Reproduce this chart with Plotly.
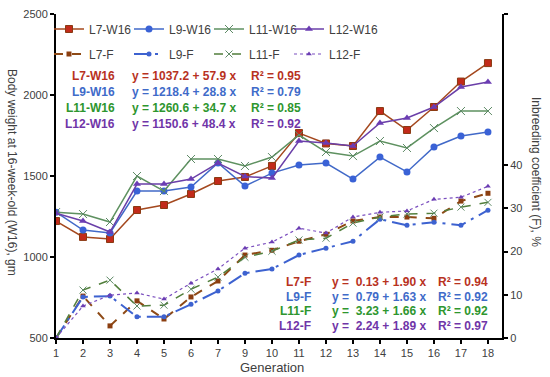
import plotly.graph_objects as go

# ---------------- data ----------------
generations = ["1", "2", "3", "4", "5", "6", "7", "9", "10", "11", "12", "13", "14", "15", "16", "17", "18"]
idx = list(range(len(generations)))

L7_W16 = [1222, 1124, 1111, 1290, 1321, 1389, 1469, 1494, 1562, 1765, 1701, 1685, 1901, 1784, 1926, 2083, 2197]
L9_W16 = [1277, 1166, 1148, 1407, 1407, 1432, 1580, 1438, 1518, 1568, 1580, 1481, 1617, 1525, 1679, 1747, 1771]
L11_W16 = [1277, 1265, 1216, 1500, 1407, 1605, 1605, 1562, 1617, 1753, 1648, 1623, 1716, 1673, 1796, 1901, 1901]
L12_W16 = [1271, 1222, 1154, 1450, 1450, 1481, 1580, 1497, 1487, 1716, 1704, 1685, 1827, 1858, 1926, 2049, 2080]

L7_F = [0, 9.7, 2.8, 8.6, 4.4, 9.5, 13.2, 19.2, 20.3, 22.4, 24.0, 27.1, 28.0, 28.0, 27.7, 31.7, 33.5]
L9_F = [0, 9.5, 9.7, 4.9, 4.9, 7.8, 10.9, 15.0, 16.0, 19.2, 20.8, 22.4, 27.5, 26.1, 26.8, 26.1, 29.6]
L11_F = [0, 11.1, 13.4, 7.4, 7.6, 11.3, 14.1, 18.7, 20.1, 22.7, 23.1, 26.6, 28.0, 28.7, 28.9, 30.3, 31.4]
L12_F = [0, 7.4, 9.9, 10.4, 9.0, 12.7, 16.0, 20.8, 22.2, 25.4, 24.3, 28.0, 29.1, 29.4, 32.1, 32.6, 35.1]

w16_eq_names = ["L7-W16", "L9-W16", "L11-W16", "L12-W16"]
w16_eqs = ["y = 1037.2 + 57.9 x", "y = 1218.4 + 28.8 x", "y = 1260.6 + 34.7 x", "y = 1150.6 + 48.4 x"]
w16_r2 = ["R² = 0.95", "R² = 0.79", "R² = 0.85", "R² = 0.92"]
f_eq_names = ["L7-F", "L9-F", "L11-F", "L12-F"]
f_eqs = ["y =\u00a0 0.13 + 1.90 x", "y =\u00a0 0.79 + 1.63 x", "y =\u00a0 3.23 + 1.66 x", "y =\u00a0 2.24 + 1.89 x"]
f_r2 = ["R² = 0.94", "R² = 0.92", "R² = 0.92", "R² = 0.97"]

# ---------------- styling ----------------
W, H = 550, 377
L, R, T, B = 56, 48, 14, 39
PW, PH = W - L - R, H - T - B

def px(X):
    return (X - L) / PW

def py(Y):
    return (H - B - Y) / PH

txt_col = ["#B8321E", "#3F6BC9", "#2E962E", "#7035A8"]
FONT = "Arial, Liberation Sans, sans-serif"

fig = go.Figure()

w16_specs = [
    ("L7-W16", L7_W16, "#A4481E", dict(symbol="square", size=7, color="#C22A1A", line=dict(width=1, color="#8A3A12"))),
    ("L9-W16", L9_W16, "#4169C8", dict(symbol="circle", size=7, color="#3A62D6")),
    ("L11-W16", L11_W16, "#5E9160", dict(symbol="x-thin", size=8, line=dict(width=1, color="#5E8A66"))),
    ("L12-W16", L12_W16, "#6A3FA8", dict(symbol="triangle-up", size=7, color="#6B3DB3")),
]
for name, ys, col, mk in w16_specs:
    fig.add_trace(go.Scatter(x=idx, y=ys, name=name, mode="lines+markers",
                             line=dict(color=col, width=1.5), marker=mk, legend="legend"))
# invisible spacer so that the last legend label is not clipped
fig.add_trace(go.Scatter(x=[None], y=[None], name="\u00a0", mode="lines",
                         line=dict(color="rgba(0,0,0,0)", width=0), legend="legend", hoverinfo="skip"))

f_specs = [
    ("L7-F", L7_F, "#8E4A16", "dash", 2, dict(symbol="square", size=5, color="#8B3E10")),
    ("L9-F", L9_F, "#3D62D0", "longdashdot", 2, dict(symbol="circle", size=5, color="#3D62D0")),
    ("L11-F", L11_F, "#527F3C", "dash", 1.5, dict(symbol="x-thin", size=7, line=dict(width=1, color="#5E8A66"))),
    ("L12-F", L12_F, "#7B4FBF", "dot", 1.2, dict(symbol="triangle-up", size=5, color="#6B3DB3")),
]
for name, ys, col, dash, wd, mk in f_specs:
    fig.add_trace(go.Scatter(x=idx, y=ys, name=name, mode="lines+markers", yaxis="y2",
                             line=dict(color=col, width=wd, dash=dash), marker=mk, legend="legend2"))
fig.add_trace(go.Scatter(x=[None], y=[None], name="\u00a0", mode="lines", yaxis="y2",
                         line=dict(color="rgba(0,0,0,0)", width=0), legend="legend2", hoverinfo="skip"))

ann = []
w16_rows = [76, 92, 108, 124]
for i in range(4):
    y = py(w16_rows[i])
    ann.append(dict(x=px(117), y=y, xref="paper", yref="paper", text="<b>%s</b>" % w16_eq_names[i],
                    xanchor="right", yanchor="middle", showarrow=False, font=dict(size=12, color=txt_col[i], family=FONT)))
    ann.append(dict(x=px(130), y=y, xref="paper", yref="paper", text="<b>%s</b>" % w16_eqs[i],
                    xanchor="left", yanchor="middle", showarrow=False, font=dict(size=12, color=txt_col[i], family=FONT)))
    ann.append(dict(x=px(249), y=y, xref="paper", yref="paper", text="<b>%s</b>" % w16_r2[i],
                    xanchor="left", yanchor="middle", showarrow=False, font=dict(size=12, color=txt_col[i], family=FONT)))
f_rows = [282, 297, 311, 326]
for i in range(4):
    y = py(f_rows[i])
    ann.append(dict(x=px(313), y=y, xref="paper", yref="paper", text="<b>%s</b>" % f_eq_names[i],
                    xanchor="right", yanchor="middle", showarrow=False, font=dict(size=12, color=txt_col[i], family=FONT)))
    ann.append(dict(x=px(330), y=y, xref="paper", yref="paper", text="<b>%s</b>" % f_eqs[i],
                    xanchor="left", yanchor="middle", showarrow=False, font=dict(size=12, color=txt_col[i], family=FONT)))
    ann.append(dict(x=px(436), y=y, xref="paper", yref="paper", text="<b>%s</b>" % f_r2[i],
                    xanchor="left", yanchor="middle", showarrow=False, font=dict(size=12, color=txt_col[i], family=FONT)))

# axis titles
ann.append(dict(x=px(12), y=py(172), xref="paper", yref="paper", text="Body weight at 16-week-old (W16), gm",
                textangle=90, showarrow=False, xanchor="center", yanchor="middle",
                font=dict(size=12, color="#404040", family=FONT)))
ann.append(dict(x=px(536), y=py(172), xref="paper", yref="paper", text="Inbreeding coefficient (F), %",
                textangle=90, showarrow=False, xanchor="center", yanchor="middle",
                font=dict(size=12, color="#404040", family=FONT)))
ann.append(dict(x=px(272), y=py(367), xref="paper", yref="paper", text="Generation",
                showarrow=False, xanchor="center", yanchor="middle",
                font=dict(size=13, color="#404040", family=FONT)))

fig.update_layout(
    width=W, height=H,
    margin=dict(l=L, r=R, t=T, b=B, pad=0, autoexpand=False),
    paper_bgcolor="white", plot_bgcolor="white",
    font=dict(family=FONT, size=11, color="#404040"),
    xaxis=dict(range=[0, 16.52], tickmode="array", tickvals=idx, ticktext=generations,
               showgrid=False, zeroline=False, showline=True, linecolor="black", linewidth=2,
               ticks="outside", ticklen=4, tickcolor="black", tickwidth=1.5,
               tickfont=dict(size=11, color="#404040")),
    yaxis=dict(range=[500, 2500], tickvals=[500, 1000, 1500, 2000, 2500],
               showgrid=False, zeroline=False, showline=True, linecolor="black", linewidth=2,
               ticks="outside", ticklen=4, tickcolor="black", tickwidth=1.5,
               tickfont=dict(size=11, color="#404040")),
    yaxis2=dict(range=[0, 75], overlaying="y", side="right", tickmode="array",
                tickvals=[0, 10, 20, 30, 40, 75], ticktext=["0", "10", "20", "30", "40", ""],
                showgrid=False, zeroline=False, showline=True, linecolor="black", linewidth=2,
                ticks="outside", ticklen=4, tickcolor="black", tickwidth=1.5,
                tickfont=dict(size=11, color="#404040")),
    legend=dict(orientation="h", xref="container", yref="container", x=49 / W, y=1 - 29 / H,
                xanchor="left", yanchor="middle",
                entrywidth=35, bgcolor="rgba(0,0,0,0)", font=dict(size=12, color="#404040"),
                tracegroupgap=0, itemwidth=30),
    legend2=dict(orientation="h", xref="container", yref="container", x=49 / W, y=1 - 54 / H,
                 xanchor="left", yanchor="middle",
                 entrywidth=35, bgcolor="rgba(0,0,0,0)", font=dict(size=12, color="#404040"),
                 tracegroupgap=0, itemwidth=30),
    annotations=ann,
    showlegend=True,
)

fig.write_html("out.html", config={"displayModeBar": False},
               post_script="document.body.style.margin='0';document.body.style.padding='0';")
